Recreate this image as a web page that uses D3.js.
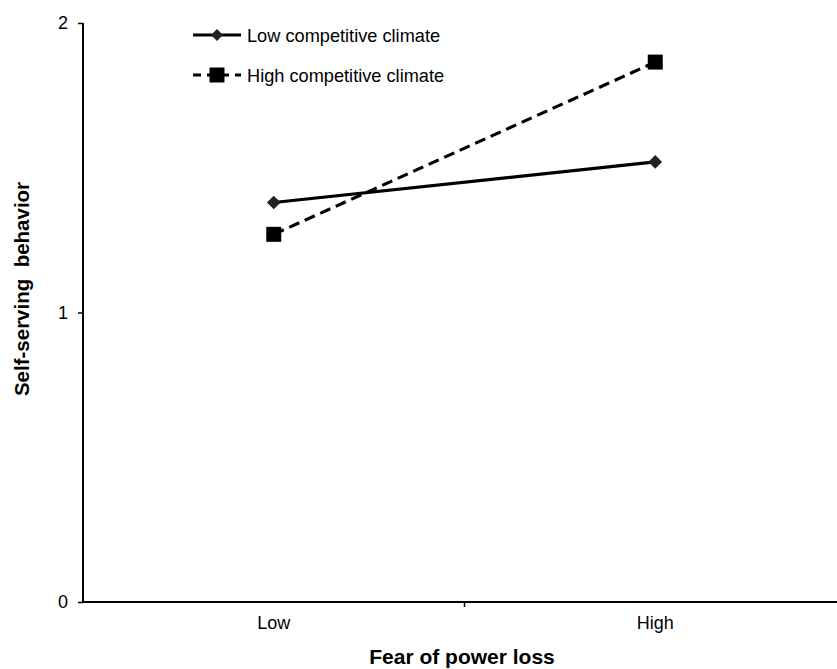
<!DOCTYPE html>
<html>
<head>
<meta charset="utf-8">
<script src="https://cdn.jsdelivr.net/npm/d3@7"></script>
<style>
  body { margin: 0; background: #fff; }
  text { font-family: "Liberation Sans", Arial, sans-serif; fill: #000; }
</style>
</head>
<body>
<svg id="chart" width="837" height="669"></svg>
<script>
// data
const categories = ['Low', 'High'];
const seriesNames = ['Low competitive climate', 'High competitive climate'];
const lowClimate = [1.38, 1.52];
const highClimate = [1.27, 1.865];
const yTicks = [0, 1, 2];

const svg = d3.select('#chart');

const x = d3.scaleBand().domain(categories).range([83, 846]);
const y = d3.scaleLinear().domain([0, 2]).range([602, 23]);

// y axis
const yAxis = svg.append('g')
    .attr('transform', 'translate(83,0)')
    .call(d3.axisLeft(y).tickValues(yTicks).tickFormat(d3.format('d')).tickSize(5).tickPadding(10));
yAxis.select('.domain').attr('stroke-width', 2).attr('d', `M0,${y(2)}V${y(0)}`);
yAxis.selectAll('.tick line').attr('stroke-width', 1.5);
yAxis.selectAll('.tick text').style('font-size', '18px').style('font-family', '"Liberation Sans", Arial, sans-serif').attr('fill', '#000');

// x axis
const xAxis = svg.append('g')
    .attr('transform', 'translate(0,602)')
    .call(d3.axisBottom(x).tickSize(0).tickPadding(14));
xAxis.select('.domain').attr('stroke-width', 2).attr('d', 'M83,0H846');
xAxis.selectAll('.tick text').style('font-size', '18px').style('font-family', '"Liberation Sans", Arial, sans-serif').attr('fill', '#000');
// boundary tick between the two categories
xAxis.append('line')
    .attr('x1', x('High')).attr('x2', x('High'))
    .attr('y1', 0).attr('y2', 5)
    .attr('stroke', '#000').attr('stroke-width', 1.5);

// axis titles
svg.append('text')
    .attr('x', 462).attr('y', 664)
    .attr('text-anchor', 'middle')
    .style('font-size', '21px').style('font-weight', 'bold')
    .text('Fear of power loss');

svg.append('text')
    .attr('transform', 'translate(29,289) rotate(-90)')
    .attr('text-anchor', 'middle')
    .style('font-size', '20.5px').style('font-weight', 'bold')
    .style('white-space', 'pre')
    .text('Self-serving  behavior');

const cx = d => x(d) + x.bandwidth() / 2;
const line = d3.line().x(d => cx(d.cat)).y(d => y(d.v));

const lowData = categories.map((c, i) => ({cat: c, v: lowClimate[i]}));
const highData = categories.map((c, i) => ({cat: c, v: highClimate[i]}));

svg.append('path').datum(lowData)
    .attr('d', line).attr('fill', 'none')
    .attr('stroke', '#000').attr('stroke-width', 3.2);

svg.append('path').datum(highData)
    .attr('d', line).attr('fill', 'none')
    .attr('stroke', '#000').attr('stroke-width', 3.2)
    .attr('stroke-dasharray', '11,6');

const diamond = d3.symbol().type(d3.symbolDiamond2).size(120);
const square = d3.symbol().type(d3.symbolSquare2).size(286);

svg.selectAll('.dmark').data(lowData).join('path')
    .attr('class', 'dmark')
    .attr('transform', d => `translate(${cx(d.cat)},${y(d.v)})`)
    .attr('d', diamond).attr('fill', '#222').attr('stroke', 'none');

svg.selectAll('.smark').data(highData).join('path')
    .attr('class', 'smark')
    .attr('transform', d => `translate(${cx(d.cat)},${y(d.v)})`)
    .attr('d', square).attr('fill', '#000').attr('stroke', 'none');

// legend
const legend = svg.append('g');
const rows = [
  {name: seriesNames[0], ly: 35, dash: null, sym: d3.symbol().type(d3.symbolDiamond2).size(90), fill: '#222'},
  {name: seriesNames[1], ly: 75, dash: '8,6', sym: square, fill: '#000'}
];
rows.forEach(r => {
  const l = legend.append('line')
      .attr('x1', 193).attr('x2', 241).attr('y1', r.ly).attr('y2', r.ly)
      .attr('stroke', '#000').attr('stroke-width', 3.2);
  if (r.dash) l.attr('stroke-dasharray', r.dash);
  legend.append('path')
      .attr('transform', `translate(217,${r.ly})`)
      .attr('d', r.sym).attr('fill', r.fill);
  legend.append('text')
      .attr('x', 247).attr('y', r.ly + 6.5)
      .style('font-size', '18.2px')
      .text(r.name);
});
</script>
</body>
</html>
